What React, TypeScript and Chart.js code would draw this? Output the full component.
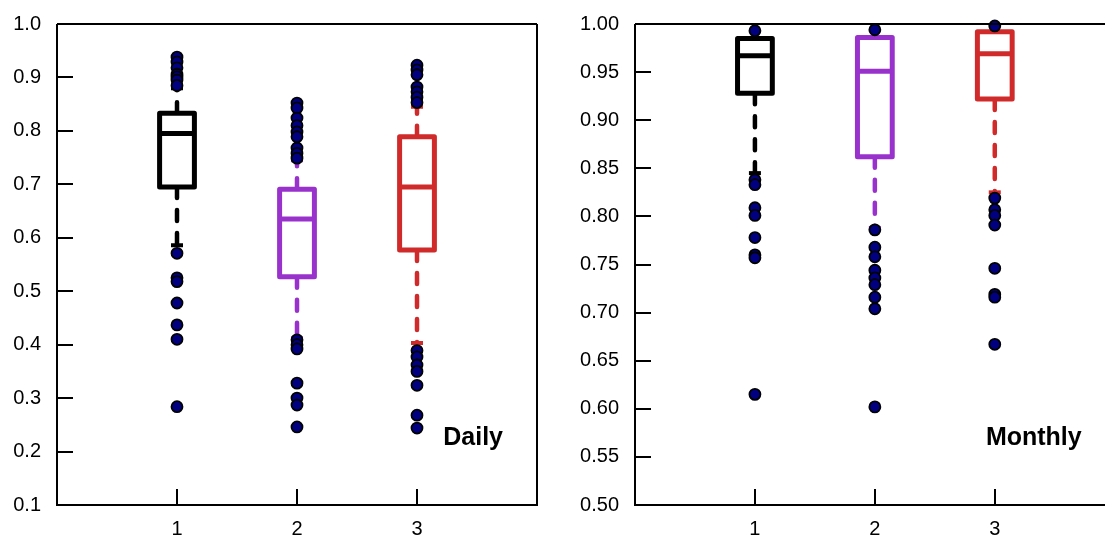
import React, { useEffect, useRef } from "react";
import { Chart, registerables } from "chart.js";

Chart.register(...registerables);

// ---------- data ----------
const CATEGORIES = [1, 2, 3];
const BOX_COLORS = ["#000000", "#9932CC", "#D02A2A"];

const DAILY_Y_TICKS = [0.1, 0.2, 0.3, 0.4, 0.5, 0.6, 0.7, 0.8, 0.9, 1.0];
const DAILY_LOWER_WHISKER = [0.586, 0.412, 0.403];
const DAILY_Q1 = [0.695, 0.527, 0.577];
const DAILY_MEDIAN = [0.795, 0.635, 0.695];
const DAILY_Q3 = [0.833, 0.691, 0.789];
const DAILY_UPPER_WHISKER = [0.88, 0.745, 0.845];
const DAILY_OUTLIERS_1 = [0.938, 0.929, 0.918, 0.906, 0.901, 0.895, 0.885, 0.571, 0.525, 0.518, 0.478, 0.437, 0.41, 0.284];
const DAILY_OUTLIERS_2 = [0.852, 0.843, 0.824, 0.81, 0.798, 0.789, 0.768, 0.758, 0.749, 0.409, 0.4, 0.392, 0.328, 0.3, 0.287, 0.246];
const DAILY_OUTLIERS_3 = [0.923, 0.914, 0.905, 0.882, 0.873, 0.863, 0.853, 0.389, 0.377, 0.362, 0.35, 0.324, 0.268, 0.244];

const MONTHLY_Y_TICKS = [0.5, 0.55, 0.6, 0.65, 0.7, 0.75, 0.8, 0.85, 0.9, 0.95, 1.0];
const MONTHLY_LOWER_WHISKER = [0.845, 0.788, 0.825];
const MONTHLY_Q1 = [0.928, 0.862, 0.922];
const MONTHLY_MEDIAN = [0.967, 0.951, 0.969];
const MONTHLY_Q3 = [0.985, 0.986, 0.992];
const MONTHLY_UPPER_WHISKER = [0.985, 0.986, 0.992];
const MONTHLY_OUTLIERS_1 = [0.993, 0.838, 0.833, 0.809, 0.801, 0.778, 0.76, 0.757, 0.615];
const MONTHLY_OUTLIERS_2 = [0.994, 0.786, 0.768, 0.758, 0.744, 0.736, 0.729, 0.716, 0.704, 0.602];
const MONTHLY_OUTLIERS_3 = [0.998, 0.819, 0.807, 0.801, 0.791, 0.746, 0.719, 0.716, 0.667];

const FONT = "'Liberation Sans', Arial, sans-serif";

type PanelSpec = {
  label: string;
  yTicks: number[];
  decimals: number;
  lo: number[];
  q1: number[];
  med: number[];
  q3: number[];
  hi: number[];
  outliers: number[][];
  yAxisWidth: number;
  rightPad: number;
  labelPad: number;
  drawRightBorder: boolean;
};

const BOX_HALF = 0.145;

function makeConfig(spec: PanelSpec): any {
  const boxPlugin = {
    id: "boxes",
    beforeDatasetsDraw(chart: any) {
      const { ctx, scales } = chart;
      const x = scales.x;
      const y = scales.y;
      ctx.save();
      CATEGORIES.forEach((c, i) => {
        const cx = x.getPixelForValue(c);
        const half = x.getPixelForValue(c + BOX_HALF) - cx;
        const color = BOX_COLORS[i];
        const yq1 = y.getPixelForValue(spec.q1[i]);
        const yq3 = y.getPixelForValue(spec.q3[i]);
        const ym = y.getPixelForValue(spec.med[i]);
        const ylo = y.getPixelForValue(spec.lo[i]);
        const yhi = y.getPixelForValue(spec.hi[i]);
        ctx.strokeStyle = color;
        // whiskers (dashed)
        ctx.lineWidth = 4.5;
        ctx.lineCap = "round";
        ctx.setLineDash([11, 12]);
        ctx.beginPath();
        ctx.moveTo(cx, yq1);
        ctx.lineTo(cx, ylo);
        ctx.stroke();
        if (yhi < yq3 - 0.5) {
          ctx.beginPath();
          ctx.moveTo(cx, yq3);
          ctx.lineTo(cx, yhi);
          ctx.stroke();
        }
        ctx.setLineDash([]);
        // staples
        ctx.lineCap = "butt";
        ctx.lineWidth = 4;
        ctx.beginPath();
        ctx.moveTo(cx - 6, ylo);
        ctx.lineTo(cx + 6, ylo);
        if (yhi < yq3 - 0.5) {
          ctx.moveTo(cx - 6, yhi);
          ctx.lineTo(cx + 6, yhi);
        }
        ctx.stroke();
        // box
        ctx.lineWidth = 5;
        ctx.lineJoin = "round";
        ctx.fillStyle = "#ffffff";
        ctx.beginPath();
        ctx.rect(cx - half, yq3, 2 * half, yq1 - yq3);
        ctx.fill();
        ctx.stroke();
        // median
        ctx.beginPath();
        ctx.moveTo(cx - half, ym);
        ctx.lineTo(cx + half, ym);
        ctx.stroke();
      });
      ctx.restore();
    },
    afterDraw(chart: any) {
      const { ctx, chartArea, scales } = chart;
      const x = scales.x;
      const y = scales.y;
      ctx.save();
      ctx.strokeStyle = "#000";
      ctx.lineWidth = 2;
      ctx.lineCap = "butt";
      // frame
      ctx.beginPath();
      ctx.moveTo(chartArea.left, chartArea.top);
      ctx.lineTo(chartArea.left, chartArea.bottom);
      ctx.lineTo(chartArea.right, chartArea.bottom);
      if (spec.drawRightBorder) ctx.lineTo(chartArea.right, chartArea.top);
      ctx.moveTo(chartArea.right, chartArea.top);
      ctx.lineTo(chartArea.left, chartArea.top);
      ctx.stroke();
      // inward ticks
      ctx.beginPath();
      spec.yTicks.forEach((v) => {
        const py = Math.round(y.getPixelForValue(v));
        ctx.moveTo(chartArea.left, py);
        ctx.lineTo(chartArea.left + 16, py);
      });
      CATEGORIES.forEach((c) => {
        const px = Math.round(x.getPixelForValue(c));
        ctx.moveTo(px, chartArea.bottom);
        ctx.lineTo(px, chartArea.bottom - 16);
      });
      ctx.stroke();
      // panel label
      ctx.fillStyle = "#000";
      ctx.font = `bold 25px ${FONT}`;
      ctx.textAlign = "right";
      ctx.textBaseline = "middle";
      ctx.fillText(spec.label, chartArea.right - spec.labelPad, chartArea.bottom - 67);
      ctx.restore();
    },
  };

  return {
    type: "scatter",
    data: {
      datasets: CATEGORIES.map((c, i) => ({
        label: `outliers ${c}`,
        data: spec.outliers[i].map((v) => ({ x: c, y: v })),
        pointRadius: 5.5,
        pointHoverRadius: 5.5,
        pointBackgroundColor: "#000080",
        pointBorderColor: "#000000",
        pointBorderWidth: 1.8,
        showLine: false,
        clip: false,
      })),
    },
    options: {
      responsive: false,
      animation: false,
      events: [],
      layout: { padding: { top: 24, right: spec.rightPad, left: 0, bottom: 0 } },
      plugins: { legend: { display: false }, tooltip: { enabled: false }, title: { display: false } },
      scales: {
        x: {
          type: "linear",
          min: 0,
          max: 4,
          grid: { display: false, drawTicks: false },
          border: { display: false },
          afterBuildTicks: (scale: any) => {
            scale.ticks = CATEGORIES.map((v) => ({ value: v }));
          },
          afterFit: (scale: any) => {
            scale.height = 33;
            scale.paddingLeft = 0;
            scale.paddingRight = 0;
          },
          ticks: {
            padding: 12,
            color: "#000",
            font: { family: FONT, size: 20 },
            maxRotation: 0,
            callback: (v: any) => String(v),
          },
        },
        y: {
          type: "linear",
          min: spec.yTicks[0],
          max: spec.yTicks[spec.yTicks.length - 1],
          grid: { display: false, drawTicks: false },
          border: { display: false },
          afterBuildTicks: (scale: any) => {
            scale.ticks = spec.yTicks.map((v) => ({ value: v }));
          },
          afterFit: (scale: any) => {
            scale.width = spec.yAxisWidth;
            scale.paddingTop = 0;
            scale.paddingBottom = 0;
          },
          ticks: {
            padding: 16,
            color: "#000",
            font: { family: FONT, size: 20 },
            callback: (v: any) => Number(v).toFixed(spec.decimals),
          },
        },
      },
    },
    plugins: [boxPlugin],
  };
}

const DAILY_SPEC: PanelSpec = {
  label: "Daily",
  yTicks: DAILY_Y_TICKS,
  decimals: 1,
  lo: DAILY_LOWER_WHISKER,
  q1: DAILY_Q1,
  med: DAILY_MEDIAN,
  q3: DAILY_Q3,
  hi: DAILY_UPPER_WHISKER,
  outliers: [DAILY_OUTLIERS_1, DAILY_OUTLIERS_2, DAILY_OUTLIERS_3],
  yAxisWidth: 57,
  rightPad: 15,
  labelPad: 34,
  drawRightBorder: true,
};

const MONTHLY_SPEC: PanelSpec = {
  label: "Monthly",
  yTicks: MONTHLY_Y_TICKS,
  decimals: 2,
  lo: MONTHLY_LOWER_WHISKER,
  q1: MONTHLY_Q1,
  med: MONTHLY_MEDIAN,
  q3: MONTHLY_Q3,
  hi: MONTHLY_UPPER_WHISKER,
  outliers: [MONTHLY_OUTLIERS_1, MONTHLY_OUTLIERS_2, MONTHLY_OUTLIERS_3],
  yAxisWidth: 83,
  rightPad: 7,
  labelPad: 33,
  drawRightBorder: true,
};

function Panel({ spec, left, width }: { spec: PanelSpec; left: number; width: number }) {
  const ref = useRef<HTMLCanvasElement | null>(null);
  useEffect(() => {
    if (!ref.current) return;
    const chart = new Chart(ref.current, makeConfig(spec));
    return () => chart.destroy();
  }, [spec]);
  return (
    <canvas
      ref={ref}
      width={width}
      height={538}
      style={{ position: "absolute", left, top: 0, width, height: 538 }}
    />
  );
}

export default function App() {
  return (
    <div
      style={{
        position: "fixed",
        left: 0,
        top: 0,
        width: 1105,
        height: 538,
        overflow: "hidden",
        background: "#ffffff",
      }}
    >
      <Panel spec={DAILY_SPEC} left={0} width={552} />
      <Panel spec={MONTHLY_SPEC} left={552} width={570} />
    </div>
  );
}
